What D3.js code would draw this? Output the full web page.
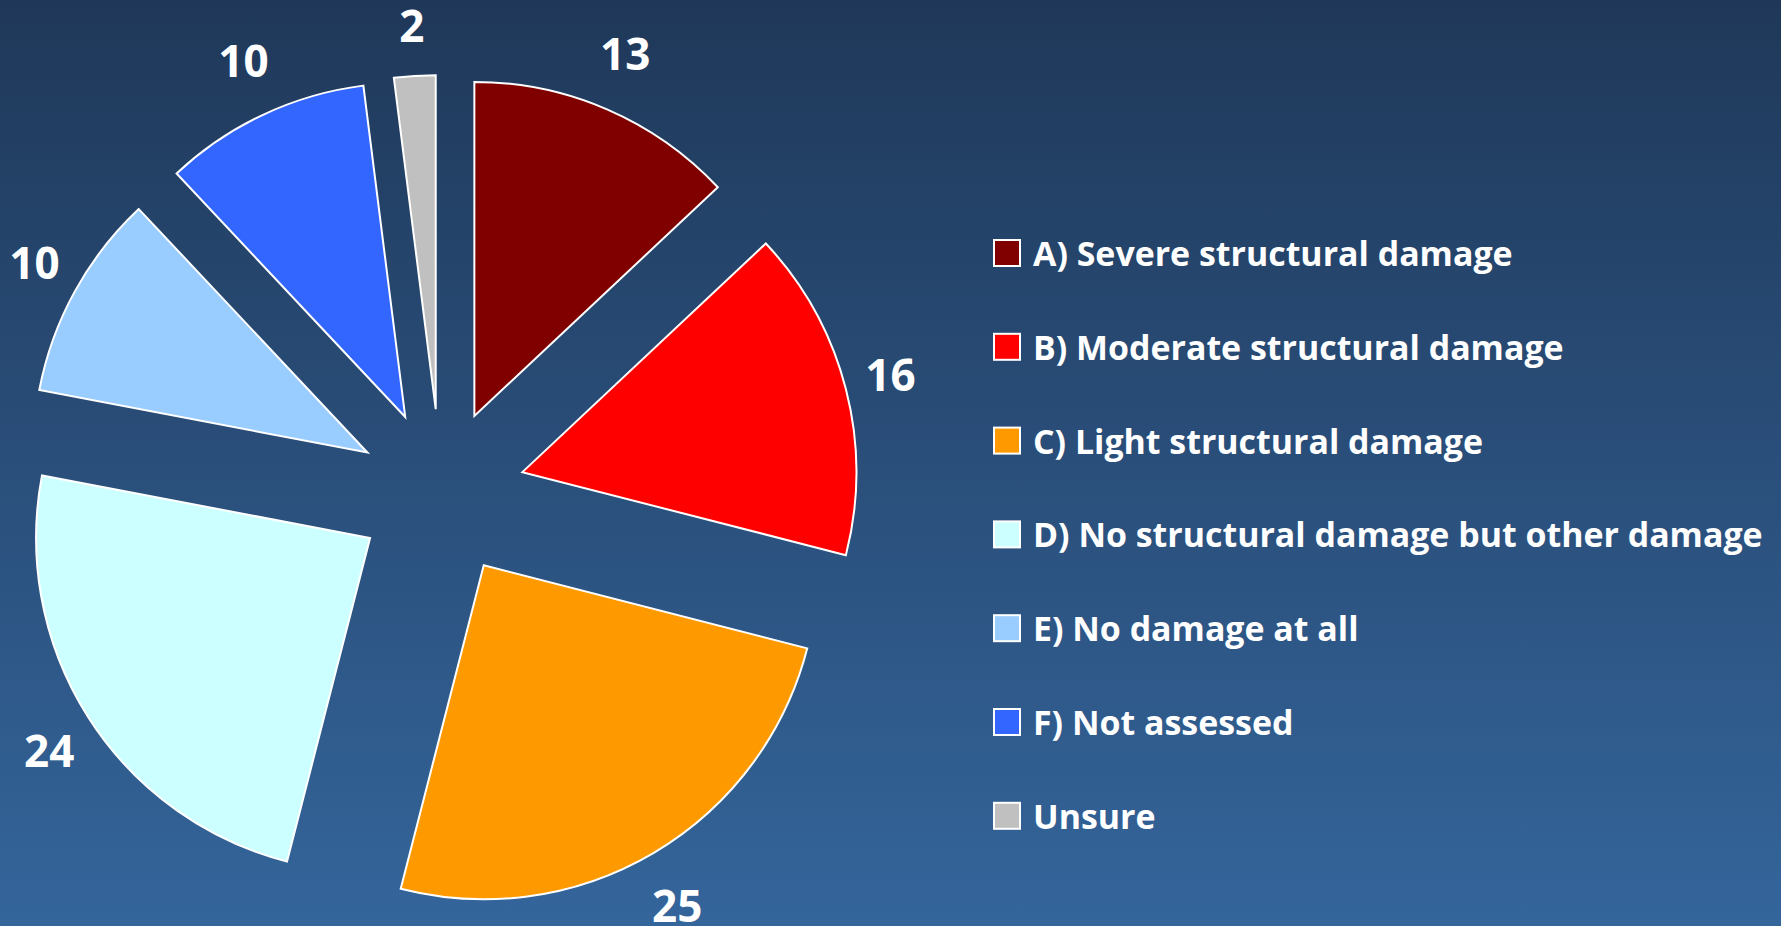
<!DOCTYPE html>
<html>
<head>
<meta charset="utf-8">
<script src="https://cdn.jsdelivr.net/npm/d3@7"></script>
<style>
  html, body { margin: 0; padding: 0; overflow: hidden; }
  svg text { font-family: "Open Sans", "Liberation Sans", sans-serif; font-weight: bold; fill: #fff; }
</style>
</head>
<body>
<div id="chart"></div>
<script>
// ---------------------------//
//          DATA              //
// ---------------------------//
const categories = [
    "A) Severe structural damage",
    "B) Moderate structural damage",
    "C) Light structural damage",
    "D) No structural damage but other damage",
    "E) No damage at all",
    "F) Not assessed",
    "Unsure"
];
const values = [13, 16, 25, 24, 10, 10, 2];

const colors = ["#800000", "#FF0000", "#FF9900", "#CCFFFF", "#99CCFF", "#3366FF", "#C0C0C0"];

// ---------------------------//
//       SET  CANVAS          //
// ---------------------------//
const width = 1781, height = 926;
const cx = 441, cy = 493;      // pie centre
const radius = 334;
const explode = 84;            // every slice pulled out by the same amount
const labelRx = 380, labelRy = 395;   // slice tip to label centre (horizontal / vertical)
const labelTop = 25;           // keep labels inside the top edge

const svg = d3.select("#chart")
    .append("svg")
    .attr("width", width)
    .attr("height", height);

// background gradient
const defs = svg.append("defs");
const bg = defs.append("linearGradient")
    .attr("id", "bg")
    .attr("x1", "0%").attr("x2", "0%")
    .attr("y1", "0%").attr("y2", "100%");
bg.append("stop").attr("offset", "0%").attr("stop-color", "#1f3859");
bg.append("stop").attr("offset", "100%").attr("stop-color", "#34659b");

svg.append("rect")
    .attr("width", width)
    .attr("height", height)
    .style("fill", "url(#bg)");

// ---------------------------//
//          PIE               //
// ---------------------------//
const data = categories.map((c, i) => ({category: c, value: values[i], color: colors[i]}));

const pie = d3.pie()
    .sort(null)
    .value(d => d.value);

const arc = d3.arc()
    .innerRadius(0)
    .outerRadius(radius);

const arcs = pie(data);
const mid = d => (d.startAngle + d.endAngle) / 2;

const slices = svg.append("g")
    .attr("transform", `translate(${cx},${cy})`);

slices.selectAll("path")
    .data(arcs)
    .enter()
    .append("path")
    .attr("d", arc)
    .attr("transform", d => `translate(${explode * Math.sin(mid(d))},${-explode * Math.cos(mid(d))})`)
    .style("fill", d => d.data.color)
    .style("stroke", "#fff")
    .style("stroke-width", 2)
    .style("stroke-linejoin", "miter");

// value labels, outside end
slices.selectAll(".value-label")
    .data(arcs)
    .enter()
    .append("text")
    .attr("class", "value-label")
    .attr("x", d => (explode + labelRx) * Math.sin(mid(d)))
    .attr("y", d => Math.max(labelTop - cy, -(explode + labelRy) * Math.cos(mid(d))))
    .attr("text-anchor", "middle")
    .attr("dominant-baseline", "central")
    .style("font-size", "44px")
    .text(d => d.data.value);

// ---------------------------//
//          LEGEND            //
// ---------------------------//
const legendX = 994, legendY = 253, legendStep = 93.8, box = 26;

const legend = svg.append("g");
const rows = legend.selectAll("g")
    .data(data)
    .enter()
    .append("g")
    .attr("transform", (d, i) => `translate(${legendX},${legendY + i * legendStep})`);

rows.append("rect")
    .attr("x", 0)
    .attr("y", -box / 2)
    .attr("width", box)
    .attr("height", box)
    .style("fill", d => d.color)
    .style("stroke", "#fff")
    .style("stroke-width", 2);

const labels = rows.append("text")
    .attr("x", 39)
    .attr("y", 0)
    .attr("dominant-baseline", "central")
    .style("font-size", "34px")
    .text(d => d.category);

// fit the longest label to the width it has in the picture
const longest = d3.max(labels.nodes(), n => n.getComputedTextLength());
const fitted = 34 * 730 / longest;
labels.style("font-size", fitted + "px");
</script>
</body>
</html>
